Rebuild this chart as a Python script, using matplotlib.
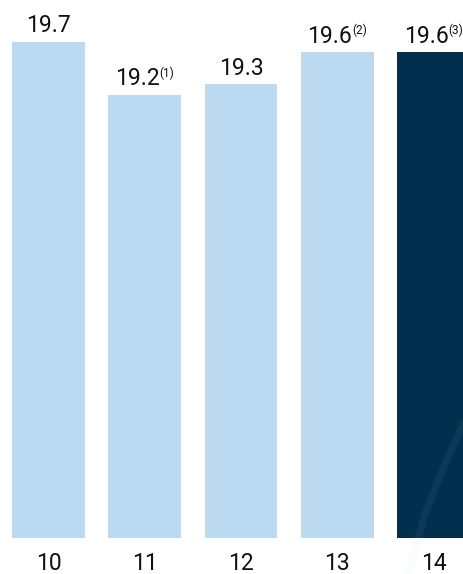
import matplotlib.pyplot as plt
from matplotlib.lines import Line2D

years = ["10", "11", "12", "13", "14"]
values = [19.7, 19.2, 19.3, 19.6, 19.6]
value_labels = ["19.7", "19.2", "19.3", "19.6", "19.6"]
notes = ["", "(1)", "", "(2)", "(3)"]
colors = ["#BBDAF2", "#BBDAF2", "#BBDAF2", "#BBDAF2", "#01304F"]

plt.rcParams['font.family'] = ['Roboto', 'DejaVu Sans']
text_color = "#111111"

fig = plt.figure(figsize=(4.63, 5.74), dpi=100)
ax = fig.add_axes([0, 36.3 / 574, 1, 537.7 / 574])

x = list(range(len(years)))
ax.bar(x, values, width=0.758, color=colors, bottom=0)
ax.set_ylim(15, 15 + 537.7 / 105.5)
ax.set_xlim(-48.5 / 96.25, (463 - 48.5) / 96.25)

for s in ax.spines.values():
    s.set_visible(False)
ax.set_yticks([])
ax.set_xticks(x, years)
ax.tick_params(axis='x', length=0, pad=10, labelsize=16.5, labelcolor=text_color)

# faint background swoosh near the last bar
fig.add_artist(Line2D([408 / 463, 425 / 463, 445 / 463, 463 / 463],
                      [0, 60 / 574, 110 / 574, 150 / 574],
                      transform=fig.transFigure, color="#c9d6e0",
                      alpha=0.06, lw=5, solid_capstyle='round', zorder=5))

# value labels with superscript notes
pairs = []
for i, v in enumerate(values):
    main = ax.annotate(value_labels[i], xy=(i, v), xytext=(0, 9.5),
                       textcoords='offset pixels', ha='left', va='baseline',
                       fontsize=16.5, color=text_color)
    sup = None
    if notes[i]:
        sup = ax.annotate(notes[i], xy=(i, v), xytext=(0, 18),
                          textcoords='offset pixels', ha='left', va='baseline',
                          fontsize=8.5, color=text_color)
    pairs.append((main, sup))

fig.canvas.draw()
r = fig.canvas.get_renderer()
for main, sup in pairs:
    w1 = main.get_window_extent(r).width
    w2 = sup.get_window_extent(r).width if sup else 0
    total = w1 + w2
    main.xyann = (-total / 2, 9.5)
    if sup:
        sup.xyann = (-total / 2 + w1, 18)

fig.savefig("out.png", dpi=100)
